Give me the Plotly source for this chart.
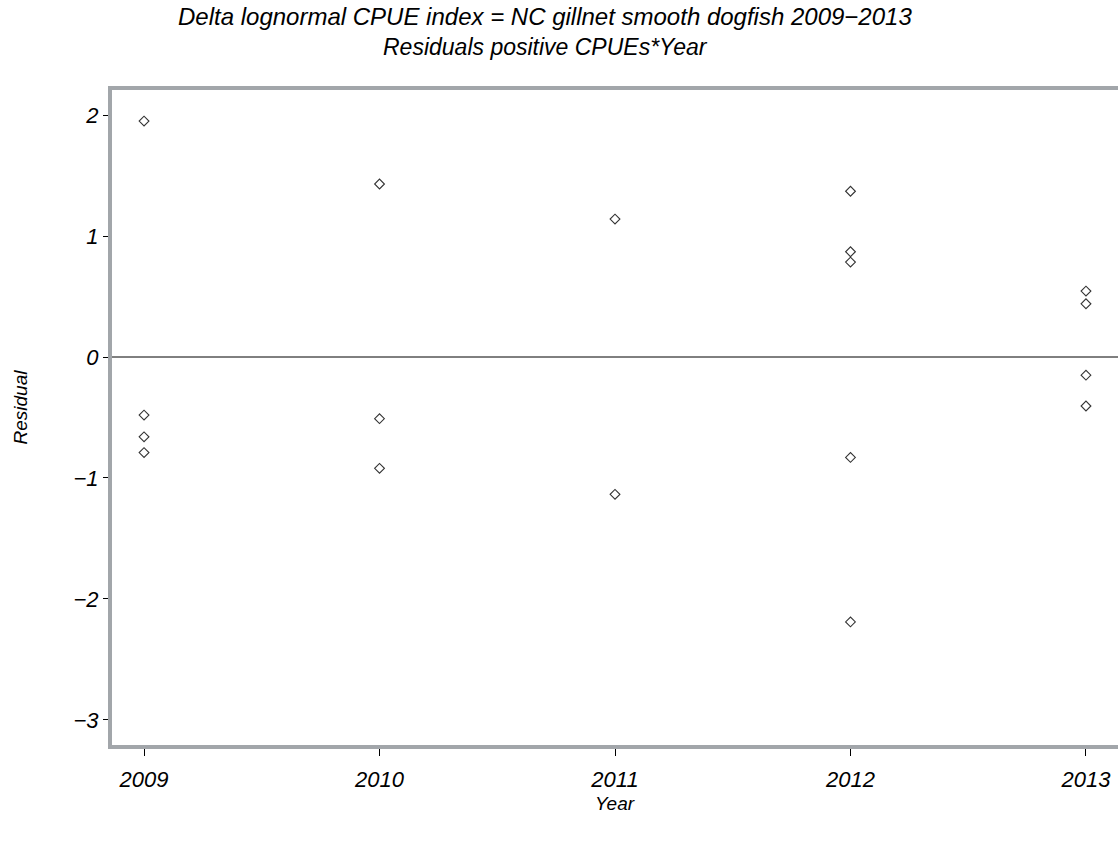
import plotly.graph_objects as go

years = [2009, 2009, 2009, 2009,
         2010, 2010, 2010,
         2011, 2011,
         2012, 2012, 2012, 2012, 2012,
         2013, 2013, 2013, 2013]
residuals = [1.95, -0.48, -0.66, -0.79,
             1.43, -0.51, -0.92,
             1.14, -1.135,
             1.37, 0.87, 0.785, -0.83, -2.19,
             0.545, 0.44, -0.15, -0.405]
x_ticks = [2009, 2010, 2011, 2012, 2013]
y_ticks = [-3, -2, -1, 0, 1, 2]
y_tick_text = ["\u22123", "\u22122", "\u22121", "0", "1", "2"]
title_lines = ["Delta lognormal CPUE index = NC gillnet smooth dogfish 2009\u22122013",
               "Residuals positive CPUEs*Year"]
title_sizes = [24, 23]
title_centers = [16, 47]

FONT = "Liberation Sans"
frame = "#a2a6aa"
W, H = 1118, 842
L, T, B = 112, 90, 97

fig = go.Figure()
fig.add_trace(go.Scatter(
    x=years, y=residuals, mode="markers",
    marker=dict(symbol="diamond-open", size=7.5, color="#333333", line=dict(width=1.1)),
    showlegend=False, cliponaxis=False,
))
fig.add_hline(y=0, line=dict(color="black", width=1))

fig.update_layout(
    width=W, height=H,
    paper_bgcolor="white", plot_bgcolor="white",
    margin=dict(l=L, r=0, t=T, b=B, autoexpand=False),
    font=dict(family=FONT, size=20, color="black"),
    xaxis=dict(range=[2008.864, 2013.136], tickvals=x_ticks, ticktext=[str(v) for v in x_ticks],
               showgrid=False, zeroline=False, showline=True, linecolor=frame, linewidth=4,
               mirror=True, ticks="outside", ticklen=7, tickcolor="black", tickwidth=1,
               ticklabelstandoff=5, automargin=False,
               tickfont=dict(family=FONT, size=22, style="italic")),
    yaxis=dict(range=[-3.207, 2.207], tickvals=y_ticks, ticktext=y_tick_text,
               showgrid=False, zeroline=False, showline=True, linecolor=frame, linewidth=4,
               mirror=False, ticks="outside", ticklen=5, tickcolor="black", tickwidth=1,
               automargin=False,
               tickfont=dict(family=FONT, size=22, style="italic")),
)
# axis titles
fig.add_annotation(text="Year", xref="paper", yref="paper", x=0.5, y=0, yshift=-(803 - 745),
                   xanchor="center", yanchor="middle",
                   showarrow=False, font=dict(family=FONT, size=19, style="italic"))
fig.add_annotation(text="Residual", xref="paper", yref="paper", x=0, y=0.5, xshift=-(L - 20),
                   yshift=(417 - 407), textangle=-90, xanchor="center", yanchor="middle",
                   showarrow=False, font=dict(family=FONT, size=19, style="italic"))
# two-line title
tx = (545 - L) / (W - L)
for line, cy, fs in zip(title_lines, title_centers, title_sizes):
    fig.add_annotation(text=line, xref="paper", yref="paper", x=tx, y=1, yshift=(T - cy),
                       xanchor="center", yanchor="middle",
                       showarrow=False, font=dict(family=FONT, size=fs, style="italic"))

fig.write_html("out.html", config={"displayModeBar": False},
               post_script="document.body.style.margin='0';document.body.style.overflow='hidden';")
